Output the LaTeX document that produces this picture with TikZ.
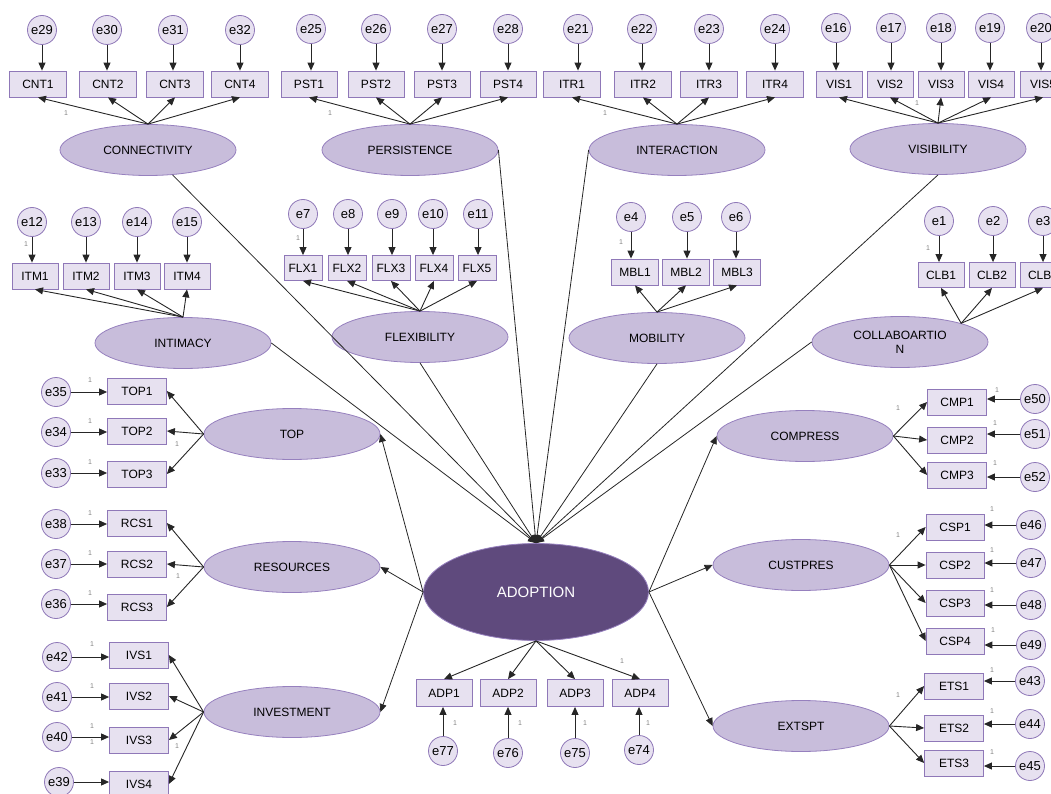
\documentclass[tikz,border=0pt]{standalone}
\usepackage{fontspec}
\setmainfont{Liberation Sans}
\usetikzlibrary{shapes.geometric,arrows.meta}
\definecolor{boxfill}{RGB}{231,225,240}
\definecolor{boxline}{RGB}{143,120,184}
\definecolor{latfill}{RGB}{200,189,219}
\definecolor{latline}{RGB}{150,128,190}
\definecolor{adpfill}{RGB}{95,74,125}
\definecolor{onegray}{RGB}{130,130,130}
\tikzset{
  obs/.style={rectangle, draw=boxline, fill=boxfill, line width=0.8pt, minimum height=26pt,
    inner sep=0pt, font=\fontsize{12}{14}\selectfont},
  err/.style={circle, draw=boxline, fill=boxfill, line width=0.8pt, minimum size=29pt,
    inner sep=0pt, font=\fontsize{13}{15}\selectfont},
  lat/.style={ellipse, draw=latline, fill=latfill, line width=0.8pt, minimum width=176pt,
    minimum height=51pt, inner sep=0pt, font=\fontsize{12}{14}\selectfont},
  pth/.style={draw=black!85, line width=0.9pt, -{Triangle[length=8pt,width=7pt]}},
  reg/.style={draw=black!85, line width=0.8pt, -{Triangle[length=8pt,width=7pt]}},
  one/.style={font=\fontsize{7}{8}\selectfont, text=onegray, inner sep=0pt},
}
\begin{document}
\begin{tikzpicture}[x=1pt,y=-1pt]
\useasboundingbox (0,0) rectangle (1051,794);
\clip (0,0) rectangle (1051,794);

% latent variables
\node[lat] (cnt) at (148,150) {CONNECTIVITY};
\node[lat] (pst) at (410,150) {PERSISTENCE};
\node[lat] (itr) at (677,150) {INTERACTION};
\node[lat] (vis) at (938,149) {VISIBILITY};
\node[lat] (itm) at (183,343) {INTIMACY};
\node[lat] (flx) at (420,337) {FLEXIBILITY};
\node[lat] (mbl) at (657,338) {MOBILITY};
\node[lat, align=center] (clb) at (900,342) {COLLABOARTIO\\N};
\node[lat] (top) at (292,434) {TOP};
\node[lat] (rcs) at (292,567) {RESOURCES};
\node[lat] (ivs) at (292,712) {INVESTMENT};
\node[lat] (cmp) at (805,436) {COMPRESS};
\node[lat] (csp) at (801,565) {CUSTPRES};
\node[lat] (ets) at (801,726) {EXTSPT};
\node[ellipse, draw=latline, fill=adpfill, line width=0.8pt, minimum width=225pt,
  minimum height=97pt, inner sep=0pt, text=white, font=\fontsize{15}{17}\selectfont]
  (adopt) at (536,592) {ADOPTION};

% top row indicators
\foreach \n/\bx/\ex/\e in {CNT1/38/42/29, CNT2/108/107/30, CNT3/175/173/31, CNT4/240/240/32}{
  \node[obs, minimum width=57pt] (\n) at (\bx,84) {\n};
  \node[err] (e\e) at (\ex,30) {e\e};
  \draw[pth] (e\e.south) -- (e\e.south |- \n.north);
  \draw[pth] (cnt.north) -- (\n.south);
}
\foreach \n/\bx/\ex/\e in {PST1/309/311/25, PST2/376/376/26, PST3/442/442/27, PST4/508/508/28}{
  \node[obs, minimum width=56pt] (\n) at (\bx,84) {\n};
  \node[err] (e\e) at (\ex,29) {e\e};
  \draw[pth] (e\e.south) -- (e\e.south |- \n.north);
  \draw[pth] (pst.north) -- (\n.south);
}
\foreach \n/\bx/\ex/\e in {ITR1/572/578/21, ITR2/643/642/22, ITR3/709/709/23, ITR4/775/775/24}{
  \node[obs, minimum width=57pt] (\n) at (\bx,84) {\n};
  \node[err] (e\e) at (\ex,29) {e\e};
  \draw[pth] (e\e.south) -- (e\e.south |- \n.north);
  \draw[pth] (itr.north) -- (\n.south);
}
\foreach \n/\bx/\ex/\e in {VIS1/839/836/16, VIS2/890/891/17, VIS3/941/941/18, VIS4/991/990/19, VIS5/1043/1041/20}{
  \node[obs, minimum width=46pt] (\n) at (\bx,84) {\n};
  \node[err] (e\e) at (\ex,28) {e\e};
  \draw[pth] (e\e.south) -- (e\e.south |- \n.north);
  \draw[pth] (vis.north) -- (\n.south);
}

% second row indicators
\foreach \n/\bx/\ex/\e in {ITM1/35/32/12, ITM2/86/86/13, ITM3/137/137/14, ITM4/187/187/15}{
  \node[obs, minimum width=46pt] (\n) at (\bx,276) {\n};
  \node[err] (e\e) at (\ex,222) {e\e};
  \draw[pth] (e\e.south) -- (e\e.south |- \n.north);
  \draw[pth] (itm.north) -- (\n.south);
}
\foreach \n/\bx/\ex/\e in {FLX1/303/303/7, FLX2/347/348/8, FLX3/391/392/9, FLX4/434/433/10, FLX5/477/478/11}{
  \node[obs, minimum width=38pt, minimum height=25pt] (\n) at (\bx,268) {\n};
  \node[err] (e\e) at (\ex,214) {e\e};
  \draw[pth] (e\e.south) -- (e\e.south |- \n.north);
  \draw[pth] (flx.north) -- (\n.south);
}
\foreach \n/\bx/\ex/\e in {MBL1/635/631/4, MBL2/686/687/5, MBL3/737/736/6}{
  \node[obs, minimum width=47pt] (\n) at (\bx,272) {\n};
  \node[err] (e\e) at (\ex,217) {e\e};
  \draw[pth] (e\e.south) -- (e\e.south |- \n.north);
  \draw[pth] (mbl.north) -- (\n.south);
}
\foreach \n/\bx/\ex/\e in {CLB1/941/939/1, CLB2/992/993/2, CLB3/1043/1043/3}{
  \node[obs, minimum width=46pt, minimum height=25pt] (\n) at (\bx,275) {\n};
  \node[err] (e\e) at (\ex,221) {e\e};
  \draw[pth] (e\e.south) -- (e\e.south |- \n.north);
  \draw[pth] (clb.17) -- (\n.south);
}

% left indicators
\foreach \n/\by/\ey/\e in {TOP1/391/392/35, TOP2/431/432/34, TOP3/474/473/33}{
  \node[obs, minimum width=59pt] (\n) at (137,\by) {\n};
  \node[err] (e\e) at (56,\ey) {e\e};
  \draw[pth] (e\e.east) -- (e\e.east -| \n.west);
  \draw[pth] (top.west) -- (\n.east);
}
\foreach \n/\by/\ey/\e in {RCS1/523/524/38, RCS2/564/564/37, RCS3/607/604/36}{
  \node[obs, minimum width=59pt] (\n) at (137,\by) {\n};
  \node[err] (e\e) at (56,\ey) {e\e};
  \draw[pth] (e\e.east) -- (e\e.east -| \n.west);
  \draw[pth] (rcs.west) -- (\n.east);
}
\foreach \n/\by/\ex/\ey/\e in {IVS1/655/57/657/42, IVS2/696/57/697/41, IVS3/740/57/737/40, IVS4/784/59/782/39}{
  \node[obs, minimum width=59pt] (\n) at (139,\by) {\n};
  \node[err] (e\e) at (\ex,\ey) {e\e};
  \draw[pth] (e\e.east) -- (e\e.east -| \n.west);
  \draw[pth] (ivs.west) -- (\n.east);
}

% right indicators
\foreach \n/\by/\ey/\e in {CMP1/402/399/50, CMP2/440/434/51, CMP3/475/477/52}{
  \node[obs, minimum width=59pt] (\n) at (957,\by) {\n};
  \node[err] (e\e) at (1035,\ey) {e\e};
  \draw[pth] (e\e.west) -- (e\e.west -| \n.east);
  \draw[pth] (cmp.east) -- (\n.west);
}
\foreach \n/\by/\ey/\e in {CSP1/527/525/46, CSP2/565/563/47, CSP3/603/605/48, CSP4/641/645/49}{
  \node[obs, minimum width=58pt] (\n) at (955,\by) {\n};
  \node[err] (e\e) at (1031,\ey) {e\e};
  \draw[pth] (e\e.west) -- (e\e.west -| \n.east);
  \draw[pth] (csp.east) -- (\n.west);
}
\foreach \n/\by/\ey/\e in {ETS1/686/681/43, ETS2/728/724/44, ETS3/763/766/45}{
  \node[obs, minimum width=59pt] (\n) at (954,\by) {\n};
  \node[err] (e\e) at (1030,\ey) {e\e};
  \draw[pth] (e\e.west) -- (e\e.west -| \n.east);
  \draw[pth] (ets.east) -- (\n.west);
}

% outcome indicators
\foreach \n/\bx/\ex/\ey/\e in {ADP1/444/443/751/77, ADP2/508/508/753/76, ADP3/575/575/753/75, ADP4/640/639/750/74}{
  \node[obs, minimum width=56pt, minimum height=27pt] (\n) at (\bx,693) {\n};
  \node[err] (e\e) at (\ex,\ey) {e\e};
  \draw[pth] (e\e.north) -- (e\e.north |- \n.south);
  \draw[pth] (adopt.south) -- (\n.north);
}

% structural paths
\draw[reg] (cnt) -- (adopt.north);
\draw[reg] (pst.east) -- (adopt.north);
\draw[reg] (itr.west) -- (adopt.north);
\draw[reg] (vis.south) -- (adopt.north);
\draw[reg] (itm.east) -- (adopt.north);
\draw[reg] (flx.south) -- (adopt.north);
\draw[reg] (mbl.south) -- (adopt.north);
\draw[reg] (clb.west) -- (adopt.north);
\draw[reg] (adopt.west) -- (top.east);
\draw[reg] (adopt.west) -- (rcs.east);
\draw[reg] (adopt.west) -- (ivs.east);
\draw[reg] (adopt.east) -- (cmp.west);
\draw[reg] (adopt.east) -- (csp.west);
\draw[reg] (adopt.east) -- (ets.west);

% fixed loadings
\foreach \x/\y [count=\k] in {66/113, 330/113, 605/113, 917/103, 26/244, 298/238, 621/242, 928/248,
  90/380, 90/421, 90/462, 177/444, 90/513, 90/553, 90/593, 178/576,
  92/644, 92/686, 92/726, 92/742, 177/746,
  455/723, 520/723, 585/723, 648/723, 622/661,
  997/390, 995/423, 995/463, 898/408,
  992/509, 992/550, 992/590, 993/630, 898/535,
  992/670, 992/711, 992/752, 898/695}
  \node[one] (one\k) at (\x,\y) {1};
\end{tikzpicture}
\end{document}
